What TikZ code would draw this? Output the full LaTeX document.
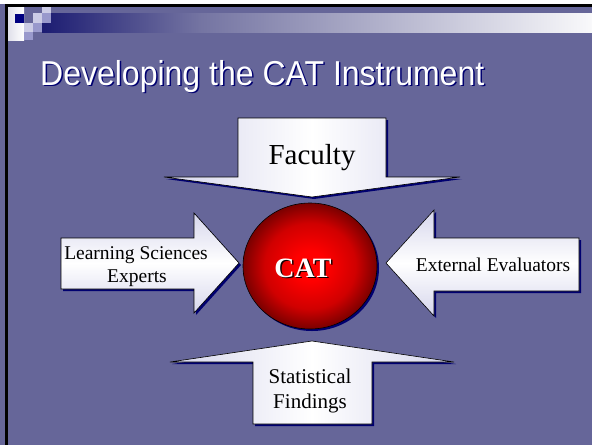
\documentclass[tikz,border=0pt]{standalone}
\usepackage{fontspec}
\setmainfont{Liberation Serif}
\newfontfamily\titlefont{Liberation Sans}
\definecolor{ballin}{HTML}{FF0000}
\definecolor{ballmid}{HTML}{D00000}
\definecolor{ballout}{HTML}{7A0000}
% bright core fading to deep red at the rim
\pgfdeclareradialshading{catball}{\pgfpoint{0bp}{0bp}}{color(0bp)=(ballin); color(6bp)=(ballin); color(17bp)=(ballmid); color(25bp)=(ballout); color(50bp)=(ballout)}
\begin{document}
\begin{tikzpicture}[x=1pt,y=-1pt]
\definecolor{slidebg}{HTML}{666699}
\definecolor{shadowblue}{HTML}{000070}
\definecolor{bannernavy}{HTML}{1C1C72}
\definecolor{bannermid}{HTML}{7474A2}
\definecolor{lav}{HTML}{D6D6EC}
\definecolor{sqnavy}{HTML}{000080}
\definecolor{sqlight}{HTML}{CCCCE6}
\definecolor{sqmid}{HTML}{9999CC}
\tikzset{
  arrowbox/.style={draw=black, line width=0.6pt},
  vshade/.style={left color=lav, right color=lav, middle color=white},
  hshade/.style={top color=lav, bottom color=lav, middle color=white},
  dropshadow/.style={fill=shadowblue},
  label/.style={font=\fontsize{19.5}{23}\selectfont, align=center, text=black, inner sep=0pt},
  titletext/.style={anchor=base west, inner sep=0pt, font=\titlefont\fontsize{32}{38}\selectfont},
  cattext/.style={anchor=base, inner sep=0pt, font=\bfseries\fontsize{28}{32}\selectfont},
}
\useasboundingbox (0,0) rectangle (592,445);
% slide background
\fill[slidebg] (0,0) rectangle (592,445);
\fill[white] (0,0) rectangle (592,4);
% header banner
\shade[left color=bannernavy, right color=bannermid] (42,13) rectangle (200,32);
\shade[left color=bannermid, right color=white!96!slidebg] (199.5,13) rectangle (592,32);
% corner squares
\shade[left color=white!80!slidebg, right color=white] (8,7) rectangle (24,40);
\fill[sqnavy] (15,14) rectangle (24,23);
\fill[sqlight] (42,7) rectangle (51,13);
\fill[sqmid] (42,13) rectangle (51,23);
\fill[sqlight] (33,13) rectangle (42,23);
\fill[sqlight] (24,23) rectangle (33,32);
\fill[sqmid] (33,23) rectangle (42,32);
\fill[sqmid] (24,32) rectangle (33,40);
% slide frame lines
\fill[black] (5,4) rectangle (592,7);
\fill[black] (5,4) rectangle (8,445);

% title
\node[titletext, text=shadowblue] (titleshadow) at (41.5,86.5) {\scalebox{1}[1.08]{Developing the CAT Instrument}};
\node[titletext, text=white] (title) at (40,85) {\scalebox{1}[1.08]{Developing the CAT Instrument}};

% Faculty arrow (pointing down)
\fill[dropshadow, shift={(2,2)}] (238,118) -- (386,118) -- (386,177) -- (460,177) -- (312,197) -- (164,177) -- (238,177) -- cycle;
\shadedraw[arrowbox, vshade] (238,118) -- (386,118) -- (386,177) -- (460,177) -- (312,197) -- (164,177) -- (238,177) -- cycle;
\node[label, font=\fontsize{29}{34}\selectfont, anchor=base] (faculty) at (312,164) {Faculty};

% Learning Sciences Experts arrow (pointing right)
\fill[dropshadow, shift={(2,2)}] (61,238) -- (194,238) -- (194,213) -- (239,263) -- (194,313) -- (194,289) -- (61,289) -- cycle;
\shadedraw[arrowbox, hshade] (61,238) -- (194,238) -- (194,213) -- (239,263) -- (194,313) -- (194,289) -- (61,289) -- cycle;
\node[label, anchor=base] (lse1) at (136,259) {Learning Sciences};
\node[label, anchor=base] (lse2) at (137,282) {Experts};

% External Evaluators arrow (pointing left)
\fill[dropshadow, shift={(2,2)}] (579,238) -- (434,238) -- (434,210) -- (386,263) -- (434,316) -- (434,291) -- (579,291) -- cycle;
\shadedraw[arrowbox, hshade] (579,238) -- (434,238) -- (434,210) -- (386,263) -- (434,316) -- (434,291) -- (579,291) -- cycle;
\node[label, anchor=base] (ext) at (493,271) {External Evaluators};

% Statistical Findings arrow (pointing up)
\fill[dropshadow, shift={(2,2)}] (253,424) -- (372,424) -- (372,362) -- (454,362) -- (312,341) -- (170,362) -- (253,362) -- cycle;
\shadedraw[arrowbox, vshade] (253,424) -- (372,424) -- (372,362) -- (454,362) -- (312,341) -- (170,362) -- (253,362) -- cycle;
\node[label, font=\fontsize{21}{25}\selectfont, anchor=base] (stat1) at (310,383) {Statistical};
\node[label, font=\fontsize{21}{25}\selectfont, anchor=base] (stat2) at (310,408) {Findings};

% central CAT ball
\fill[shadowblue] (312,268) ellipse [x radius=67, y radius=63];
\draw[draw=black, line width=0.6pt, shading=catball] (310,266) ellipse [x radius=67, y radius=63];
\node[cattext, text=black!85!ballout] (catshadow) at (304.5,278.5) {CAT};
\node[cattext, text=white] (cat) at (303,277) {CAT};
\end{tikzpicture}
\end{document}
